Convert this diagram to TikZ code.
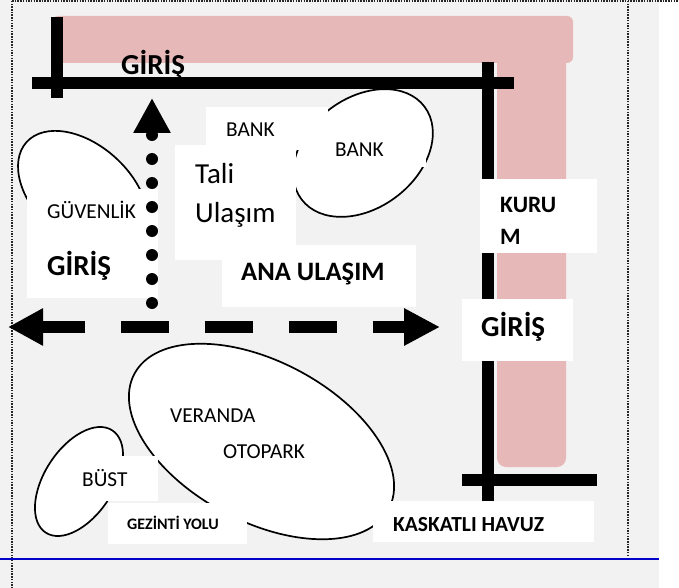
\documentclass[tikz,border=0pt]{standalone}
\usepackage{fontspec}
\setmainfont{Carlito}
\usetikzlibrary{arrows.meta,positioning,shapes.geometric}
\tikzset{x=1pt,y=-1pt}

\begin{document}
\begin{tikzpicture}
\definecolor{zemin}{HTML}{F2F2F2}
\definecolor{pembe}{HTML}{E6B8B7}
\definecolor{mavi}{HTML}{0000C8}
\tikzstyle{kutu}=[fill=white,rectangle,inner sep=0,anchor=north west]
\tikzstyle{alan}=[ellipse,draw=black,line width=1.7pt,fill=white,inner sep=0]
\tikzstyle{yazi}=[anchor=base west,inner sep=0,font=\fontsize{21.3}{22}\selectfont]
\tikzstyle{kalin}=[anchor=base west,inner sep=0,font=\fontsize{29}{29}\selectfont\bfseries]
\tikzstyle{duvar}=[line width=12pt,black]
\tikzstyle{sinir}=[line width=2pt,dash pattern=on 1.5pt off 1.2pt,black!85]
\useasboundingbox (0,0) rectangle (679,588);

\fill[zemin] (0,0) rectangle (659,588);
% binalar
\fill[pembe,rounded corners=6pt] (52,16) rectangle (573,63);
\fill[pembe,rounded corners=9pt] (497,40) rectangle (566,467);

% sinirlar
\coordinate (ustsol) at (12,1);
\coordinate (ustsag) at (679,1);
\coordinate (altsol) at (12,588);
\coordinate (sagust) at (628,1);
\coordinate (sagalt) at (628,555);
\coordinate (mavisol) at (0,559);
\coordinate (mavisag) at (659,559);
\draw[sinir] (ustsol) -- (ustsag);
\draw[sinir] (ustsol) -- (altsol);
\draw[sinir] (sagust) -- (sagalt);
\draw[mavi,line width=2pt] (mavisol) -- (mavisag);

% yollar
\coordinate (d1a) at (57,17);
\coordinate (d1b) at (57,98);
\coordinate (d2a) at (32,83);
\coordinate (d2b) at (514,83);
\coordinate (d3a) at (488,62);
\coordinate (d3b) at (488,501);
\coordinate (d4a) at (462,480);
\coordinate (d4b) at (597,480);
\draw[duvar] (d1a) -- (d1b);
\draw[duvar] (d2a) -- (d2b);
\draw[duvar] (d3a) -- (d3b);
\draw[duvar] (d4a) -- (d4b);

% alanlar
\node[alan,minimum width=154pt,minimum height=110pt,rotate=37] (bank) at (363,153) {};
\node[alan,minimum width=152pt,minimum height=96pt,rotate=-42] (guvenlik) at (83,193) {};
\node[alan,minimum width=288pt,minimum height=160pt,rotate=-28] (otopark) at (261.5,441.5) {};
\node[alan,minimum width=122pt,minimum height=69pt,rotate=57] (bust) at (79,481.5) {};

% beyaz kutular
\node[kutu,minimum width=122pt,minimum height=43pt] (k1) at (206,107) {};
\node[kutu,minimum width=126pt,minimum height=17pt] (k2) at (300,150) {};
\node[kutu,minimum width=121pt,minimum height=115pt] (k3) at (175,145) {};
\node[kutu,minimum width=131pt,minimum height=109pt] (k4) at (27,189) {};
\node[kutu,minimum width=194pt,minimum height=62pt] (k5) at (222,245) {};
\node[kutu,minimum width=117pt,minimum height=74pt] (k6) at (480,179) {};
\node[kutu,minimum width=111pt,minimum height=62pt] (k7) at (462,299) {};
\node[kutu,minimum width=80pt,minimum height=45pt] (k8) at (78,456) {};
\node[kutu,minimum width=139pt,minimum height=41pt] (k9) at (108,503) {};
\node[kutu,minimum width=221pt,minimum height=41pt] (k10) at (373,501) {};

% oklar
\coordinate (sol) at (8,327);
\coordinate (sag) at (440,327);
\coordinate (alt) at (152,303);
\coordinate (ust) at (152,98);
\draw[line width=12pt,dash pattern=on 48pt off 36pt,dash phase=4pt,{Triangle[length=35pt,width=35pt]}-{Triangle[length=36pt,width=35pt]}] (sol) -- (sag);
\draw[line width=12pt,line cap=round,dash pattern=on 0pt off 24pt,-{Triangle[length=35pt,width=35pt]}] (alt) -- (ust);

% yazilar
\node[kalin] (giris1) at (121,75) {GİRİŞ};
\node[yazi] (bank1) at (226,137) {BANK};
\node[yazi] (bank2) at (335,157) {BANK};
\node[yazi,font=\fontsize{29}{29}\selectfont] (tali) at (195,183) {Tali};
\node[yazi,font=\fontsize{29}{29}\selectfont] (ulasim) at (195,222) {Ulaşım};
\node[yazi] (guv) at (47,218) {GÜVENLİK};
\node[kalin] (giris2) at (47,275) {GİRİŞ};
\node[kalin,font=\fontsize{26.6}{27}\selectfont\bfseries] (ana) at (241,280) {ANA ULAŞIM};
\node[kalin,font=\fontsize{23.5}{24}\selectfont\bfseries] (kuru) at (500,212) {KURU};
\node[kalin,font=\fontsize{23.5}{24}\selectfont\bfseries] (kurum) at (500,244) {M};
\node[kalin] (giris3) at (481,336) {GİRİŞ};
\node[yazi] (veranda) at (170,422) {VERANDA};
\node[yazi] (oto) at (223,458) {OTOPARK};
\node[yazi] (bustyazi) at (82,486) {BÜST};
\node[kalin,font=\fontsize{16}{16}\selectfont\bfseries] (gezinti) at (127,529) {GEZİNTİ YOLU};
\node[kalin,font=\fontsize{21.5}{22}\selectfont\bfseries] (havuz) at (393,531) {KASKATLI HAVUZ};
\end{tikzpicture}
\end{document}
